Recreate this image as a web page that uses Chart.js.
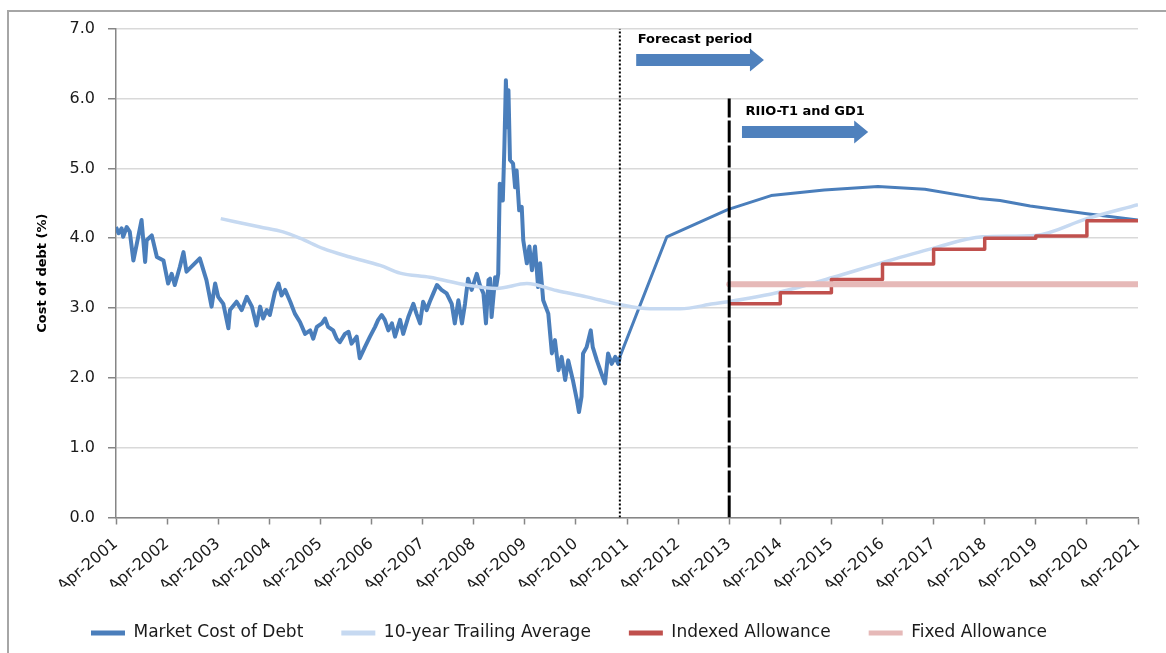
<!DOCTYPE html>
<html>
<head>
<meta charset="utf-8">
<script src="https://cdn.jsdelivr.net/npm/chart.js@4.4.0/dist/chart.umd.min.js"></script>
<style>
  html, body { margin: 0; padding: 0; background: #fff; }
  #wrap { position: relative; width: 1166px; height: 653px; overflow: hidden; }
  #frame { position: absolute; left: 7px; top: 10px; width: 1200px; height: 700px;
           border-left: 2px solid #a6a6a6; border-top: 2px solid #a6a6a6; }
  canvas { position: absolute; left: 0; top: 0; }
</style>
</head>
<body>
<div id="wrap">
  <div id="frame"></div>
  <canvas id="chart" width="1166" height="653"></canvas>
</div>
<script>
// x values are years counted from Apr-2001 (0) to Apr-2021 (20)
const tickYears = [2001, 2002, 2003, 2004, 2005, 2006, 2007, 2008, 2009, 2010, 2011,
                   2012, 2013, 2014, 2015, 2016, 2017, 2018, 2019, 2020, 2021];
const tickLabels = tickYears.map(y => 'Apr-' + y);

const marketT = [
  0.00, 0.05, 0.11, 0.14, 0.21, 0.27, 0.34, 0.41, 0.50, 0.57, 0.60, 0.70, 0.80, 0.93,
  1.02, 1.09, 1.15, 1.25, 1.32, 1.38, 1.64, 1.77, 1.87, 1.94,
  2.00, 2.10, 2.20, 2.23, 2.36, 2.46, 2.56, 2.66, 2.75, 2.82, 2.88, 2.95,
  3.01, 3.11, 3.18, 3.24, 3.31, 3.41, 3.50, 3.60, 3.70, 3.80, 3.86, 3.93,
  4.03, 4.09, 4.15, 4.25, 4.32, 4.38, 4.48, 4.55, 4.61, 4.71, 4.77, 4.87, 4.97,
  5.07, 5.13, 5.20, 5.26, 5.33, 5.40, 5.46, 5.56, 5.62, 5.72, 5.82, 5.88, 5.95,
  6.01, 6.08, 6.14, 6.21, 6.28, 6.37, 6.47, 6.57, 6.63, 6.70, 6.77, 6.83, 6.89, 6.96,
  7.06, 7.12, 7.19, 7.24, 7.29, 7.32, 7.35, 7.42, 7.44, 7.48, 7.51, 7.57, 7.60, 7.63,
  7.66, 7.68, 7.71, 7.77, 7.81, 7.84, 7.89, 7.94, 7.97,
  8.04, 8.09, 8.14, 8.20, 8.26, 8.30, 8.36, 8.46, 8.53, 8.59, 8.66, 8.72, 8.79, 8.85, 8.94,
  9.02, 9.06, 9.11, 9.14, 9.21, 9.29, 9.33, 9.41, 9.50, 9.57, 9.63, 9.70, 9.77, 9.83, 9.86,
  10.78, 11.97, 12.82, 13.86, 14.91, 15.83, 16.89, 17.30, 17.89, 19.00, 20.00
];
const marketCost = [
  4.16, 4.07, 4.14, 4.02, 4.16, 4.09, 3.68, 3.93, 4.26, 3.66, 3.97, 4.04, 3.73, 3.68,
  3.35, 3.49, 3.33, 3.59, 3.80, 3.52, 3.71, 3.40, 3.02, 3.35,
  3.16, 3.06, 2.71, 2.97, 3.09, 2.97, 3.16, 3.02, 2.75, 3.02, 2.85, 2.97,
  2.90, 3.23, 3.35, 3.18, 3.26, 3.09, 2.92, 2.80, 2.63, 2.68, 2.56, 2.73,
  2.78, 2.85, 2.73, 2.68, 2.56, 2.51, 2.63, 2.66, 2.49, 2.59, 2.28, 2.44, 2.59,
  2.73, 2.83, 2.90, 2.83, 2.68, 2.78, 2.59, 2.83, 2.63, 2.87, 3.06, 2.92, 2.78,
  3.09, 2.97, 3.09, 3.21, 3.33, 3.26, 3.21, 3.06, 2.78, 3.11, 2.78, 3.06, 3.42, 3.26,
  3.49, 3.33, 3.21, 2.78, 3.40, 3.42, 2.87, 3.44, 3.30, 3.49, 4.78, 4.54, 5.30, 6.26,
  5.59, 6.12, 5.12, 5.07, 4.73, 4.97, 4.40, 4.45, 3.97,
  3.64, 3.88, 3.54, 3.88, 3.30, 3.64, 3.11, 2.92, 2.35, 2.54, 2.11, 2.30, 1.97, 2.25, 1.97,
  1.68, 1.51, 1.73, 2.35, 2.44, 2.68, 2.44, 2.25, 2.06, 1.92, 2.35, 2.20, 2.30, 2.20, 2.30,
  4.02, 4.41, 4.61, 4.69, 4.74, 4.70, 4.57, 4.54, 4.46, 4.35, 4.26
];

// 10-year trailing average
const trailT = [2.05, 2.82, 3.27, 3.60, 4.06, 4.58, 5.17, 5.56, 6.14, 6.86, 7.45, 8.04, 8.62,
                9.21, 9.86, 10.45, 11.04, 11.69, 11.98, 13.00, 14.04, 14.95, 15.97, 16.96,
                18.00, 19.00, 20.00];
const trailAvg = [4.28, 4.16, 4.09, 4.00, 3.85, 3.73, 3.61, 3.50, 3.44, 3.33, 3.28, 3.35, 3.25,
                  3.16, 3.05, 2.99, 2.99, 3.06, 3.09, 3.23, 3.44, 3.64, 3.85, 4.02,
                  4.04, 4.28, 4.48];

// Indexed allowance (value held from each April to the next)
const indexedT = [12, 13, 14, 15, 16, 17, 18, 19, 20];
const indexedAllowance = [3.06, 3.22, 3.41, 3.63, 3.84, 4.00, 4.03, 4.25, 4.25];

// Fixed allowance
const fixedT = [12, 20];
const fixedAllowance = [3.34, 3.34];

// Period markers
const forecastStart = 9.86;
const riioStart = 12;

const pts = (xs, ys) => xs.map((x, i) => ({ x: x, y: ys[i] }));

const notes = [
  { text: 'Forecast period', x: 10.21, y: 6.79, from: 10.18, to: 12.68, arrowY: 6.55 },
  { text: 'RIIO-T1 and GD1', x: 12.32, y: 5.76, from: 12.25, to: 14.72, arrowY: 5.52 }
];

const notePlugin = {
  id: 'notes',
  afterDatasetsDraw(chart) {
    const ctx = chart.ctx;
    const xs = chart.scales.x, ys = chart.scales.y;
    ctx.save();
    notes.forEach(n => {
      ctx.fillStyle = '#000';
      ctx.font = 'bold 13px "DejaVu Sans"';
      ctx.textBaseline = 'alphabetic';
      ctx.fillText(n.text, xs.getPixelForValue(n.x), ys.getPixelForValue(n.y));

      const x0 = xs.getPixelForValue(n.from);
      const x1 = xs.getPixelForValue(n.to);
      const y = ys.getPixelForValue(n.arrowY);
      const head = 14;
      ctx.fillStyle = '#4f81bd';
      ctx.beginPath();
      ctx.moveTo(x0, y - 6);
      ctx.lineTo(x1 - head, y - 6);
      ctx.lineTo(x1 - head, y - 11.5);
      ctx.lineTo(x1, y);
      ctx.lineTo(x1 - head, y + 11.5);
      ctx.lineTo(x1 - head, y + 6);
      ctx.lineTo(x0, y + 6);
      ctx.closePath();
      ctx.fill();
    });
    ctx.restore();
  }
};

const axisGrey = '#868686';
const textCol = '#1a1a1a';

new Chart(document.getElementById('chart'), {
  type: 'line',
  data: {
    datasets: [
      {
        label: 'Market Cost of Debt',
        data: pts(marketT, marketCost),
        borderColor: '#4a7ebb', backgroundColor: '#4a7ebb',
        borderWidth: 3, order: 4,
        // the daily history looks thicker than the forecast
        segment: { borderWidth: c => (c.p1.parsed.x <= forecastStart ? 4 : 3) }
      },
      {
        label: '10-year Trailing Average',
        data: pts(trailT, trailAvg),
        borderColor: '#c6d9f1', backgroundColor: '#c6d9f1',
        borderWidth: 3.5, cubicInterpolationMode: 'monotone', order: 3
      },
      {
        label: 'Indexed Allowance',
        data: pts(indexedT, indexedAllowance),
        borderColor: '#c0504d', backgroundColor: '#c0504d',
        borderWidth: 3.5, stepped: 'before', order: 2
      },
      {
        label: 'Fixed Allowance',
        data: pts(fixedT, fixedAllowance),
        borderColor: '#e6b9b8', backgroundColor: '#e6b9b8',
        borderWidth: 6, borderCapStyle: 'round', order: 1
      },
      {
        label: 'forecast',
        data: [{ x: forecastStart, y: 0 }, { x: forecastStart, y: 7 }],
        borderColor: '#000', borderWidth: 2, borderDash: [2, 2], order: 0
      },
      {
        label: 'riio',
        data: [{ x: riioStart, y: 0 }, { x: riioStart, y: 6 }],
        borderColor: '#000', borderWidth: 3, borderDash: [22, 3], order: 0
      }
    ]
  },
  options: {
    responsive: false,
    animation: false,
    layout: { padding: { top: 28.7, right: 28, bottom: 1.5, left: 0 } },
    elements: {
      point: { radius: 0 },
      line: { borderJoinStyle: 'round', tension: 0 }
    },
    scales: {
      x: {
        type: 'linear',
        min: 0, max: 20,
        afterBuildTicks: s => { s.ticks = tickYears.map((y, i) => ({ value: i })); },
        afterFit: s => { s.height = 69; },
        ticks: {
          callback: (v, i) => tickLabels[i],
          autoSkip: false,
          minRotation: 40, maxRotation: 40,
          padding: 10,
          color: textCol,
          font: { family: '"DejaVu Sans"', size: 16 }
        },
        grid: { drawOnChartArea: false, tickLength: 7, tickColor: axisGrey, tickWidth: 1.5 },
        border: { color: axisGrey, width: 1.5 }
      },
      y: {
        min: 0, max: 7,
        afterFit: s => { s.width = 116; },
        ticks: {
          stepSize: 1,
          callback: v => v.toFixed(1),
          padding: 13,
          color: textCol,
          font: { family: '"DejaVu Sans"', size: 16 }
        },
        grid: { color: '#d9d9d9', lineWidth: 1.5, tickLength: 8, tickColor: axisGrey },
        border: { color: axisGrey, width: 1.5 },
        title: {
          display: true,
          text: 'Cost of debt (%)',
          color: '#000',
          padding: { top: 35, bottom: 0 },
          font: { family: '"DejaVu Sans"', size: 13, weight: 'bold' }
        }
      }
    },
    plugins: {
      tooltip: { enabled: false },
      legend: {
        position: 'bottom',
        labels: {
          boxWidth: 34, boxHeight: 5, padding: 38,
          color: textCol,
          font: { family: '"DejaVu Sans"', size: 17 },
          generateLabels: chart => Chart.defaults.plugins.legend.labels.generateLabels(chart)
            .filter(l => l.datasetIndex < 4)
            .sort((a, b) => a.datasetIndex - b.datasetIndex)
            .map(l => Object.assign(l, { lineWidth: 0 }))
        }
      }
    }
  },
  plugins: [notePlugin]
});
</script>
</body>
</html>
